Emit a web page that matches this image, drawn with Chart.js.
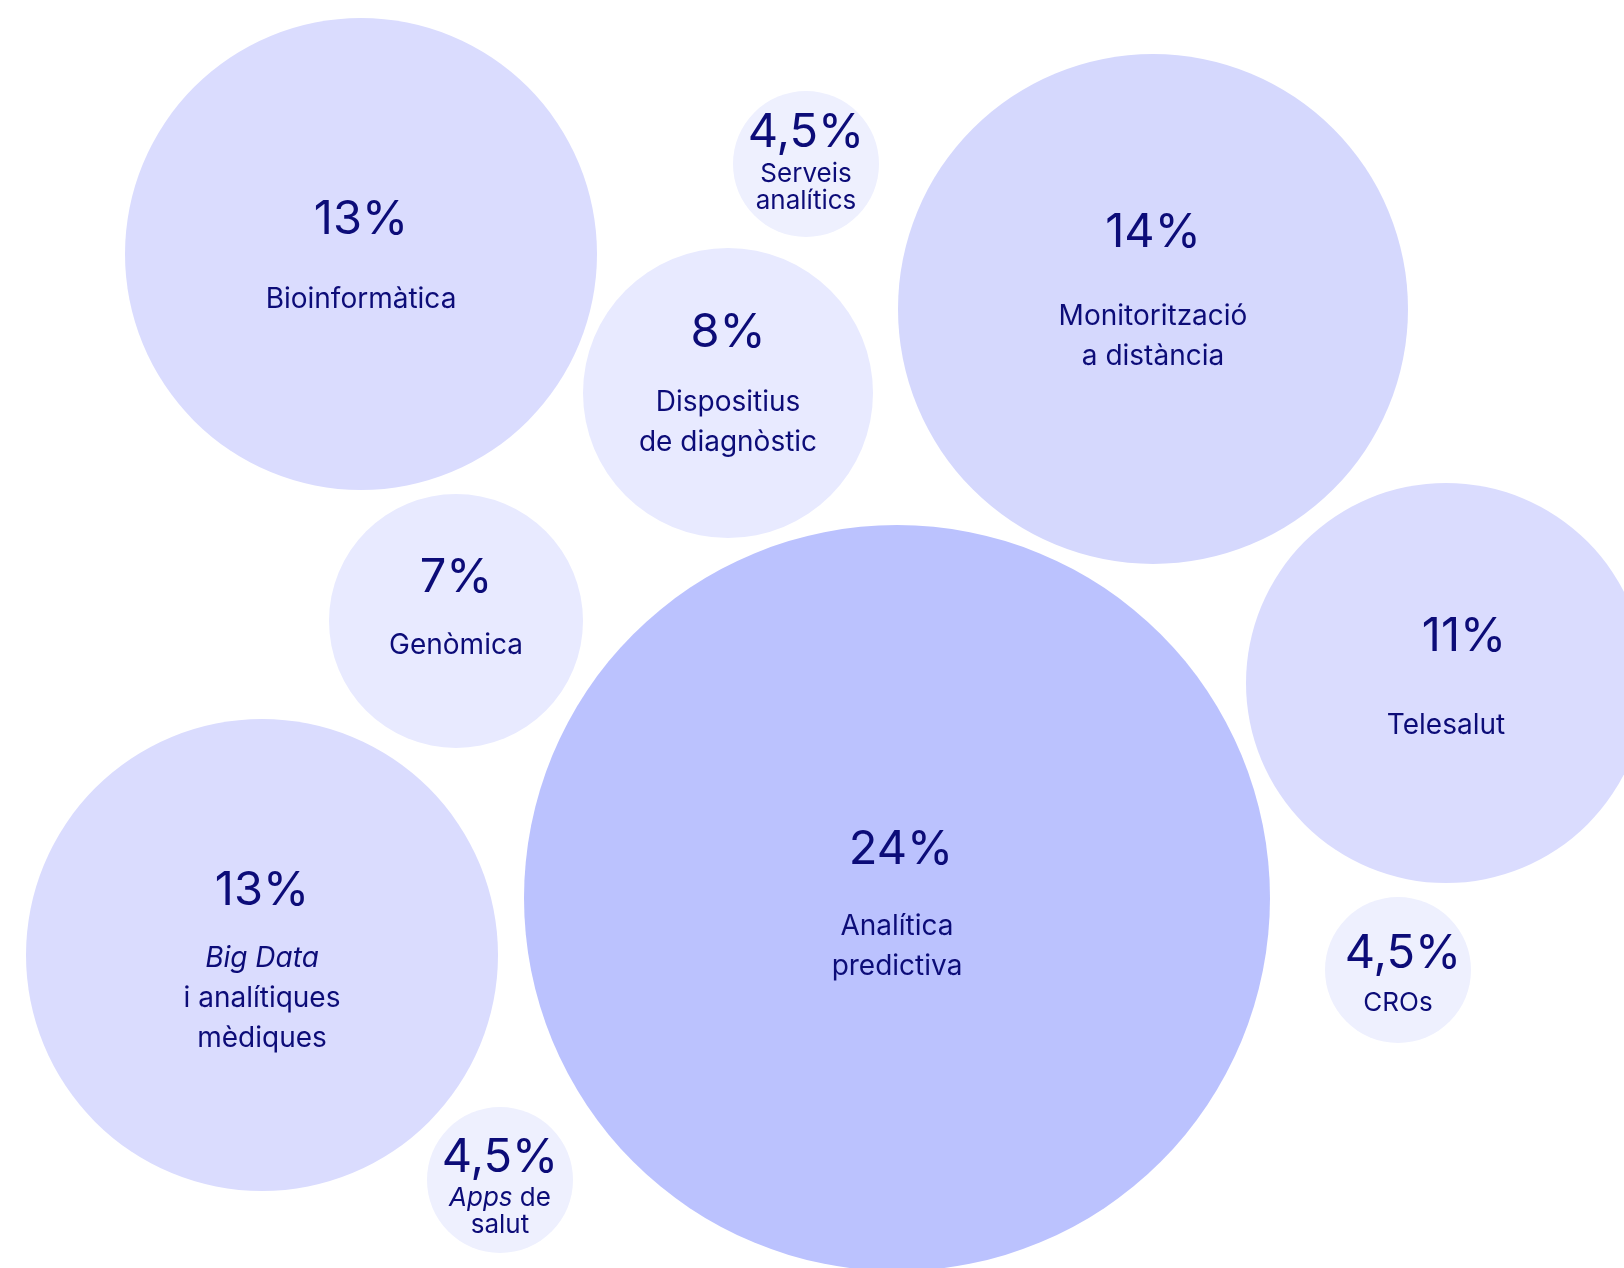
<!DOCTYPE html>
<html>
<head>
<meta charset="utf-8">
<script src="https://cdn.jsdelivr.net/npm/chart.js@4/dist/chart.umd.min.js"></script>
<style>
  html, body { margin: 0; padding: 0; background: #ffffff; }
  #bubbleChart { display: block; }
</style>
</head>
<body>
<canvas id="bubbleChart" width="1624" height="1268"></canvas>
<script>
// Segments of digital health, share of companies (%)
const shares = [13, 4.5, 8, 14, 7, 11, 24, 13, 4.5, 4.5];
// Label lines; text between underscores is set in italics
const segments = [
    ['Bioinformàtica'],
    ['Serveis', 'analítics'],
    ['Dispositius', 'de diagnòstic'],
    ['Monitorització', 'a distància'],
    ['Genòmica'],
    ['Telesalut'],
    ['Analítica', 'predictiva'],
    ['_Big Data_', 'i analítiques', 'mèdiques'],
    ['_Apps_ de', 'salut'],
    ['CROs']
];
// Packed layout: centre and radius of each bubble, in axis units
const bubbleX = [361, 806, 728, 1153, 456, 1446, 897, 262, 500, 1398];
const bubbleY = [254, 164, 393, 309, 621, 683, 898, 955, 1180, 970];
const bubbleSize = [236, 73, 145, 255, 127, 200, 373, 236, 73, 73];

// Text placement inside each bubble (px): share line offset from the centre, gap to the label
const textDy = [-34, -31, -60, -76, -43, -46, -48, -64, -22, -16];
const textDx = [0, 0, 0, 0, 0, 18, 4, 0, 0, 5];
const textGap = [80, 41, 70, 84, 68, 89, 77, 68, 40, 49];

const fills = ['#dadcfe', '#eef0fe', '#e8eaff', '#d5d8fd', '#e8eaff',
               '#dadcfe', '#bbc2fe', '#dadcfe', '#eef0fe', '#eef0fe'];
const ink = '#0c0c78';
const family = 'Inter, "Noto Sans", sans-serif';

const points = shares.map((v, i) => ({ x: bubbleX[i], y: bubbleY[i] }));

// Turn a length in axis units into pixels
const toPx = (scale, len) => Math.abs(scale.getPixelForValue(len) - scale.getPixelForValue(0));

const formatShare = (v) => String(v).replace('.', ',') + '%';

// Draw one label line, switching to italics inside _..._
function drawLine(ctx, line, x, y, size) {
    const parts = line.split('_').map((t, k) => ({ text: t, italic: k % 2 === 1 })).filter(p => p.text);
    let total = 0;
    parts.forEach(p => {
        ctx.font = (p.italic ? 'italic ' : '') + size + 'px ' + family;
        p.w = ctx.measureText(p.text).width;
        total += p.w;
    });
    let cx = x - total / 2;
    ctx.textAlign = 'left';
    parts.forEach(p => {
        ctx.font = (p.italic ? 'italic ' : '') + size + 'px ' + family;
        ctx.fillText(p.text, cx, y);
        cx += p.w;
    });
}

const bubbleText = {
    id: 'bubbleText',
    afterDatasetsDraw(chart) {
        const ctx = chart.ctx;
        const meta = chart.getDatasetMeta(0);
        ctx.save();
        ctx.fillStyle = ink;
        ctx.textBaseline = 'middle';
        meta.data.forEach((el, i) => {
            const small = shares[i] < 5;
            const lh = small ? 27 : 40;
            const top = el.y + textDy[i];
            ctx.textAlign = 'center';
            ctx.font = '47px ' + family;
            ctx.fillText(formatShare(shares[i]), el.x + textDx[i], top);
            segments[i].forEach((ln, k) => {
                drawLine(ctx, ln, el.x, top + textGap[i] + k * lh, small ? 26 : 28);
            });
        });
        ctx.restore();
    }
};

const chart = new Chart(document.getElementById('bubbleChart'), {
    type: 'bubble',
    data: {
        datasets: [{
            data: points,
            backgroundColor: fills,
            borderWidth: 0,
            hoverRadius: 0,
            clip: false
        }]
    },
    options: {
        responsive: false,
        animation: false,
        events: [],
        layout: { padding: 0, autoPadding: false },
        scales: {
            x: { type: 'linear', min: 0, max: 1624, display: false },
            y: { type: 'linear', min: 0, max: 1268, reverse: true, display: false }
        },
        plugins: {
            legend: { display: false },
            tooltip: { enabled: false }
        }
    },
    plugins: [bubbleText]
});

// Once the scales exist, size each bubble through the x scale
points.forEach((p, i) => { p.r = toPx(chart.scales.x, bubbleSize[i]); });
chart.update();
</script>
</body>
</html>
